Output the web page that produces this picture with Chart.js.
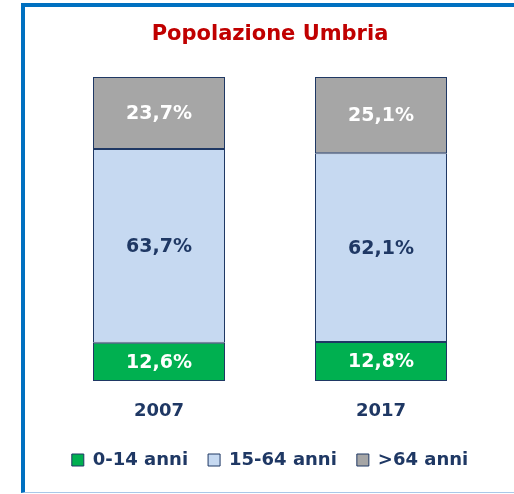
<!DOCTYPE html>
<html>
<head>
<meta charset="utf-8">
<script src="https://cdn.jsdelivr.net/npm/chart.js@4"></script>
<style>
  html, body { margin: 0; padding: 0; background: #fff; overflow: hidden; }
  #frame {
    position: absolute; left: 21px; top: 3px; width: 600px; height: 490px;
    box-sizing: border-box;
    border-left: 4px solid #0070C0;
    border-top: 4px solid #0070C0;
    border-bottom: 1px solid #A9C8E8;
  }
  #popChart { position: absolute; left: 0; top: 0; }
</style>
</head>
<body>
<div id="frame"></div>
<canvas id="popChart" width="514" height="494"></canvas>
<script>
// anni (categorie)
const years = ['2007', '2017'];

// quote percentuali per fascia d'eta
const giovani = [12.6, 12.8];   // 0-14 anni
const adulti  = [63.7, 62.1];   // 15-64 anni
const anziani = [23.7, 25.1];   // >64 anni

const seriesNames = ['0-14 anni', '15-64 anni', '>64 anni'];

const navy = '#1F3864';
const fontFamily = '"DejaVu Sans", sans-serif';

// etichette dentro le barre
const barLabels = {
    id: 'barLabels',
    afterDatasetsDraw(chart) {
        const ctx = chart.ctx;
        ctx.save();
        ctx.font = 'bold 19px ' + fontFamily;
        ctx.textAlign = 'center';
        ctx.textBaseline = 'middle';
        chart.data.datasets.forEach((ds, i) => {
            const meta = chart.getDatasetMeta(i);
            meta.data.forEach((bar, j) => {
                const p = bar.getProps(['x', 'y', 'base'], true);
                const txt = ds.data[j].toFixed(1).replace('.', ',') + '%';
                ctx.fillStyle = ds.labelColor;
                ctx.fillText(txt, p.x, (p.y + p.base) / 2 + 1);
            });
        });
        ctx.restore();
    }
};

const popChart = new Chart(document.getElementById('popChart'), {
    type: 'bar',
    data: {
        labels: years,
        datasets: [{
            label: seriesNames[0],
            data: giovani,
            backgroundColor: '#00B050',
            labelColor: '#ffffff'
        }, {
            label: seriesNames[1],
            data: adulti,
            backgroundColor: '#C6D9F1',
            labelColor: navy
        }, {
            label: seriesNames[2],
            data: anziani,
            backgroundColor: '#A6A6A6',
            labelColor: '#ffffff'
        }]
    },
    options: {
        responsive: false,
        animation: false,
        layout: {
            padding: { left: 48, right: 22, top: 0, bottom: 15 }
        },
        datasets: {
            bar: {
                categoryPercentage: 1,
                barPercentage: 132 / 222,
                borderColor: navy,
                borderWidth: 1,
                borderSkipped: false
            }
        },
        scales: {
            x: {
                stacked: true,
                grid: { display: false, drawTicks: false },
                border: { display: false },
                ticks: {
                    padding: 19,
                    color: navy,
                    font: { family: fontFamily, size: 18, weight: 'bold', lineHeight: '22px' }
                },
                afterFit(scale) { scale.height = 50; }
            },
            y: {
                stacked: true,
                display: false,
                min: 0,
                max: 100
            }
        },
        plugins: {
            title: {
                display: true,
                text: 'Popolazione Umbria',
                color: '#C00000',
                font: { family: fontFamily, size: 21, weight: 'bold', lineHeight: '25px' },
                padding: { top: 22, bottom: 30 }
            },
            legend: {
                position: 'bottom',
                labels: {
                    boxWidth: 12,
                    boxHeight: 12,
                    padding: 20,
                    color: navy,
                    font: { family: fontFamily, size: 18, weight: 'bold' }
                }
            },
            tooltip: { enabled: false }
        }
    },
    plugins: [barLabels]
});
</script>
</body>
</html>
